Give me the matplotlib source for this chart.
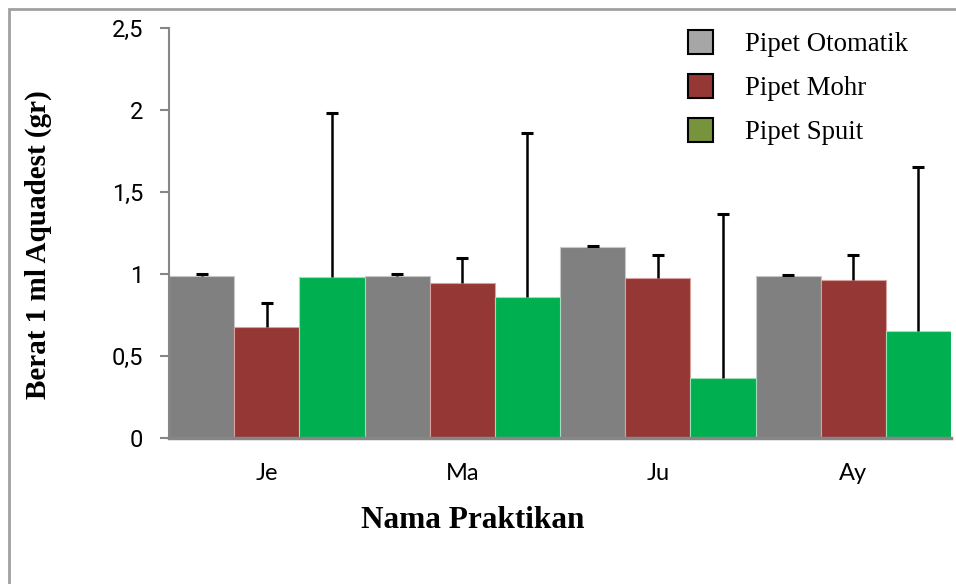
import numpy as np
import matplotlib
matplotlib.use("Agg")
import matplotlib.pyplot as plt
from matplotlib.patches import Patch, Rectangle

# data
praktikan = ["Je", "Ma", "Ju", "Ay"]
otomatik = [0.99, 0.99, 1.165, 0.99]
mohr = [0.675, 0.945, 0.975, 0.965]
spuit = [0.98, 0.86, 0.365, 0.65]
err_otomatik = [0.01, 0.01, 0.005, 0.005]
err_mohr = [0.15, 0.15, 0.14, 0.15]
err_spuit = [1.0, 1.0, 1.0, 1.0]
yticks = [0, 0.5, 1, 1.5, 2, 2.5]
ytick_labels = ["0", "0,5", "1", "1,5", "2", "2,5"]

series = [
    ("Pipet Otomatik", otomatik, err_otomatik, "#808080", "#A6A6A6", "#c8c8c8"),
    ("Pipet Mohr", mohr, err_mohr, "#953735", "#953735", "#d9a09e"),
    ("Pipet Spuit", spuit, err_spuit, "#00B050", "#77933C", "#9fdcb8"),
]

fig = plt.figure(figsize=(9.56, 5.84), dpi=100)
ax = fig.add_axes([169 / 956, 146 / 584, 782 / 956, 410 / 584])

# outer frame (cut off at right and bottom like the reference)
fig.patches.append(Rectangle((8.5 / 956, -0.1), 1.2, (575 / 584) + 0.1,
                             transform=fig.transFigure, fill=False,
                             edgecolor="#a0a0a0", linewidth=2, zorder=0))

x = np.arange(len(praktikan))
w = 1 / 3
handles = []
for i, (name, vals, errs, col, legcol, edge) in enumerate(series):
    pos = x + (i - 1) * w
    vals = np.array(vals)
    errs = np.array(errs)
    ax.bar(pos, vals, width=w, color=col, edgecolor=edge, linewidth=0.8, zorder=2)
    # upper error bars only
    ax.vlines(pos, vals, vals + errs, color="black", linewidth=1.8, zorder=3)
    ax.plot(pos, vals + errs, ls="none", marker="_", markersize=9,
            markeredgewidth=2.2, color="black", zorder=3)
    handles.append(Patch(facecolor=legcol, edgecolor="black", linewidth=1.5, label=name))

ax.set_xlim(-0.5, 3.5)
ax.set_ylim(0, 2.5)
ax.set_yticks(yticks)
ax.set_yticklabels(ytick_labels, fontfamily="Roboto", fontsize=17)
ax.set_xticks(x)
ax.set_xticklabels(praktikan, fontfamily="Lato", fontsize=17)
ax.tick_params(axis="x", length=0, pad=18)
ax.tick_params(axis="y", length=6.5, width=1.5, color="#868686", pad=12)

for s in ["top", "right"]:
    ax.spines[s].set_visible(False)
ax.spines["left"].set_color("#868686")
ax.spines["left"].set_linewidth(1.5)
ax.spines["bottom"].set_color("#868686")
ax.spines["bottom"].set_linewidth(2.5)

fig.text(38 / 956, 1 - 245 / 584, "Berat 1 ml Aquadest (gr)", rotation=90,
         ha="center", va="center", fontfamily="Liberation Serif",
         fontweight="bold", fontsize=21)
fig.text(473 / 956, 1 - 520 / 584, "Nama Praktikan", ha="center", va="center",
         fontfamily="Liberation Serif", fontweight="bold", fontsize=22.5)

fig.legend(handles=handles, loc="upper left",
           bbox_to_anchor=(688 / 956, 1 - 30 / 584), frameon=False,
           prop={"family": "Liberation Serif", "size": 19.3},
           handlelength=0.92, handleheight=1.02, handletextpad=1.2,
           labelspacing=0.62, borderpad=0, borderaxespad=0)

fig.savefig("out.png", dpi=100, facecolor="white")
